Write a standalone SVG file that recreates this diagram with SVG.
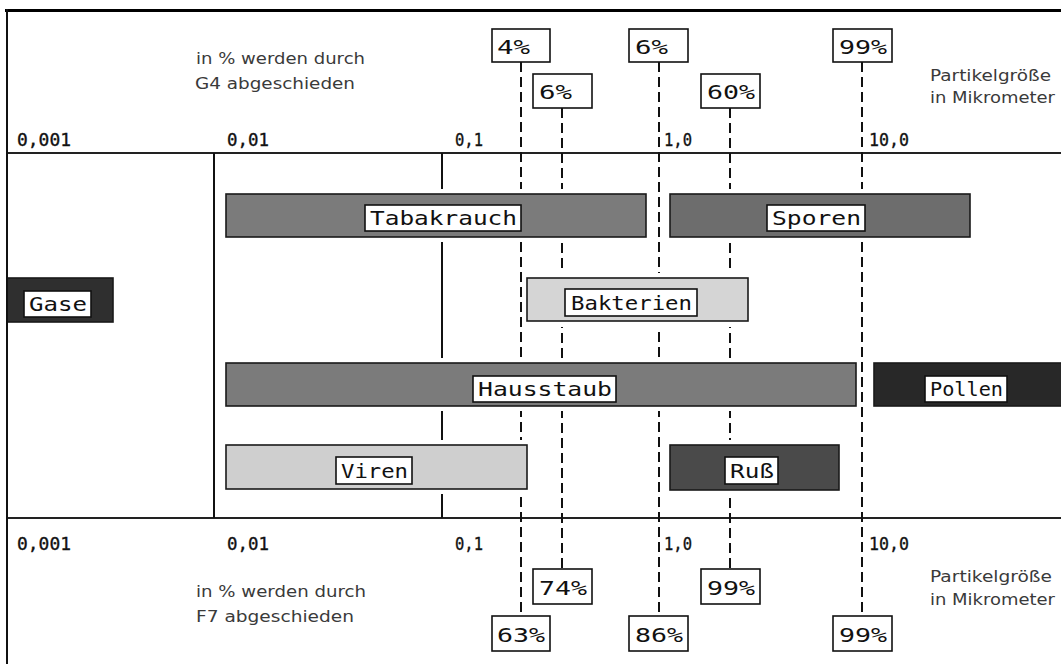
<svg xmlns="http://www.w3.org/2000/svg" width="1061" height="664" viewBox="0 0 1061 664">
<defs>
<style>
.bg{fill:#ffffff}
.halo{fill:#ffffff;stroke:none}
.bar{stroke:#1a1a1a;stroke-width:1.6}
.lbl{fill:#ffffff;stroke:#111;stroke-width:1.6}
.lt{font-family:"DejaVu Sans Mono","Liberation Mono",monospace;font-size:20px;fill:#111}
.ax{font-family:"DejaVu Sans Mono","Liberation Mono",monospace;font-size:18px;fill:#111;stroke:#111;stroke-width:0.35}
.note{font-family:"DejaVu Sans","Liberation Sans",sans-serif;font-size:16.5px;fill:#3a3a3a}
.axis{stroke:#222;stroke-width:2;fill:none}
.solid{stroke:#111;stroke-width:2;fill:none}
.dash{stroke:#111;stroke-width:2;fill:none;stroke-dasharray:10 5}
</style>
</defs>
<rect class="bg" x="0" y="0" width="1061" height="664"/>

<g id="axes">
<line class="axis" x1="7" y1="153" x2="1061" y2="153"/>
<line class="axis" x1="7" y1="518" x2="1061" y2="518"/>
<text class="ax" x="17" y="146" textLength="54" lengthAdjust="spacingAndGlyphs">0,001</text>
<text class="ax" x="227" y="146" textLength="42" lengthAdjust="spacingAndGlyphs">0,01</text>
<text class="ax" x="455" y="146" textLength="28" lengthAdjust="spacingAndGlyphs">0,1</text>
<text class="ax" x="664" y="146" textLength="28" lengthAdjust="spacingAndGlyphs">1,0</text>
<text class="ax" x="869" y="146" textLength="40" lengthAdjust="spacingAndGlyphs">10,0</text>
<text class="ax" x="17" y="550" textLength="54" lengthAdjust="spacingAndGlyphs">0,001</text>
<text class="ax" x="227" y="550" textLength="42" lengthAdjust="spacingAndGlyphs">0,01</text>
<text class="ax" x="455" y="550" textLength="28" lengthAdjust="spacingAndGlyphs">0,1</text>
<text class="ax" x="664" y="550" textLength="28" lengthAdjust="spacingAndGlyphs">1,0</text>
<text class="ax" x="869" y="550" textLength="40" lengthAdjust="spacingAndGlyphs">10,0</text>
</g>

<g id="notes">
<text class="note" x="196" y="64" textLength="169" lengthAdjust="spacingAndGlyphs">in % werden durch</text>
<text class="note" x="195" y="89" textLength="160" lengthAdjust="spacingAndGlyphs">G4 abgeschieden</text>
<text class="note" x="930" y="81" textLength="121" lengthAdjust="spacingAndGlyphs">Partikelgröße</text>
<text class="note" x="930" y="103" textLength="125" lengthAdjust="spacingAndGlyphs">in Mikrometer</text>
<text class="note" x="196" y="597" textLength="170" lengthAdjust="spacingAndGlyphs">in % werden durch</text>
<text class="note" x="196" y="622" textLength="158" lengthAdjust="spacingAndGlyphs">F7 abgeschieden</text>
<text class="note" x="930" y="582" textLength="122" lengthAdjust="spacingAndGlyphs">Partikelgröße</text>
<text class="note" x="930" y="605" textLength="125" lengthAdjust="spacingAndGlyphs">in Mikrometer</text>
</g>

<g id="connectors">
<line class="solid" x1="214" y1="153" x2="214" y2="518"/>
<line class="solid" x1="442" y1="153" x2="442" y2="518"/>
<line class="dash" x1="521" y1="62" x2="521" y2="616"/>
<line class="dash" x1="562" y1="108" x2="562" y2="569"/>
<line class="dash" x1="659" y1="62" x2="659" y2="616"/>
<line class="dash" x1="730" y1="108" x2="730" y2="569"/>
<line class="dash" x1="862" y1="62" x2="862" y2="616"/>
</g>

<g id="tabakrauch">
<rect class="halo" x="226" y="189" width="420" height="53"/>
<rect class="bar" x="226" y="194" width="420" height="43" fill="#7b7b7b"/>
<rect class="lbl" x="365" y="205" width="156" height="26"/>
<text class="lt" x="370" y="225" textLength="147" lengthAdjust="spacingAndGlyphs">Tabakrauch</text>
</g>
<g id="sporen">
<rect class="halo" x="670" y="189" width="300" height="53"/>
<rect class="bar" x="670" y="194" width="300" height="43" fill="#6d6d6d"/>
<rect class="lbl" x="767" y="205" width="98" height="26"/>
<text class="lt" x="772" y="225" textLength="89" lengthAdjust="spacingAndGlyphs">Sporen</text>
</g>
<g id="gase">
<rect class="halo" x="8" y="273" width="105" height="54"/>
<rect class="bar" x="7" y="278" width="106" height="44" fill="#2f2f2f"/>
<rect class="lbl" x="24" y="291" width="67" height="26"/>
<text class="lt" x="29" y="311" textLength="58" lengthAdjust="spacingAndGlyphs">Gase</text>
</g>
<g id="bakterien">
<rect class="halo" x="527" y="273" width="221" height="54"/>
<rect class="bar" x="527" y="278" width="221" height="43" fill="#d5d5d5"/>
<rect class="lbl" x="565" y="289" width="132" height="27"/>
<text class="lt" x="571" y="310" textLength="121" lengthAdjust="spacingAndGlyphs">Bakterien</text>
</g>
<g id="hausstaub">
<rect class="halo" x="226" y="358" width="630" height="53"/>
<rect class="bar" x="226" y="363" width="630" height="43" fill="#7b7b7b"/>
<rect class="lbl" x="473" y="376" width="143" height="26"/>
<text class="lt" x="478" y="396" textLength="134" lengthAdjust="spacingAndGlyphs">Hausstaub</text>
</g>
<g id="pollen">
<rect class="halo" x="874" y="358" width="187" height="53"/>
<rect class="bar" x="874" y="363" width="190" height="43" fill="#282828"/>
<rect class="lbl" x="925" y="376" width="82" height="26"/>
<text class="lt" x="930" y="396" textLength="73" lengthAdjust="spacingAndGlyphs">Pollen</text>
</g>
<g id="viren">
<rect class="halo" x="226" y="440" width="301" height="54"/>
<rect class="bar" x="226" y="445" width="301" height="44" fill="#cfcfcf"/>
<rect class="lbl" x="336" y="457" width="76" height="27"/>
<text class="lt" x="341" y="478" textLength="67" lengthAdjust="spacingAndGlyphs">Viren</text>
</g>
<g id="russ">
<rect class="halo" x="670" y="440" width="169" height="55"/>
<rect class="bar" x="670" y="445" width="169" height="45" fill="#4a4a4a"/>
<rect class="lbl" x="725" y="457" width="53" height="27"/>
<text class="lt" x="730" y="478" textLength="44" lengthAdjust="spacingAndGlyphs">Ruß</text>
</g>

<g id="g4-4">
<rect class="lbl" x="492" y="29" width="58" height="33"/>
<text class="lt" x="497" y="54" textLength="33" lengthAdjust="spacingAndGlyphs">4%</text>
</g>
<g id="g4-6a">
<rect class="lbl" x="629" y="29" width="59" height="33"/>
<text class="lt" x="635" y="54" textLength="33" lengthAdjust="spacingAndGlyphs">6%</text>
</g>
<g id="g4-99">
<rect class="lbl" x="833" y="29" width="59" height="33"/>
<text class="lt" x="839" y="54" textLength="48" lengthAdjust="spacingAndGlyphs">99%</text>
</g>
<g id="g4-6b">
<rect class="lbl" x="533" y="74" width="59" height="34"/>
<text class="lt" x="539" y="99" textLength="33" lengthAdjust="spacingAndGlyphs">6%</text>
</g>
<g id="g4-60">
<rect class="lbl" x="701" y="74" width="59" height="34"/>
<text class="lt" x="707" y="99" textLength="48" lengthAdjust="spacingAndGlyphs">60%</text>
</g>
<g id="f7-74">
<rect class="lbl" x="533" y="569" width="59" height="35"/>
<text class="lt" x="539" y="595" textLength="48" lengthAdjust="spacingAndGlyphs">74%</text>
</g>
<g id="f7-99a">
<rect class="lbl" x="701" y="569" width="59" height="35"/>
<text class="lt" x="707" y="595" textLength="48" lengthAdjust="spacingAndGlyphs">99%</text>
</g>
<g id="f7-63">
<rect class="lbl" x="492" y="616" width="58" height="35"/>
<text class="lt" x="497" y="642" textLength="48" lengthAdjust="spacingAndGlyphs">63%</text>
</g>
<g id="f7-86">
<rect class="lbl" x="629" y="616" width="59" height="35"/>
<text class="lt" x="635" y="642" textLength="48" lengthAdjust="spacingAndGlyphs">86%</text>
</g>
<g id="f7-99b">
<rect class="lbl" x="833" y="616" width="59" height="35"/>
<text class="lt" x="839" y="642" textLength="48" lengthAdjust="spacingAndGlyphs">99%</text>
</g>

<g id="frame">
<line x1="5" y1="10.5" x2="1061" y2="10.5" stroke="#000" stroke-width="3"/>
<line x1="7" y1="9" x2="7" y2="664" stroke="#111" stroke-width="2"/>
</g>
</svg>
